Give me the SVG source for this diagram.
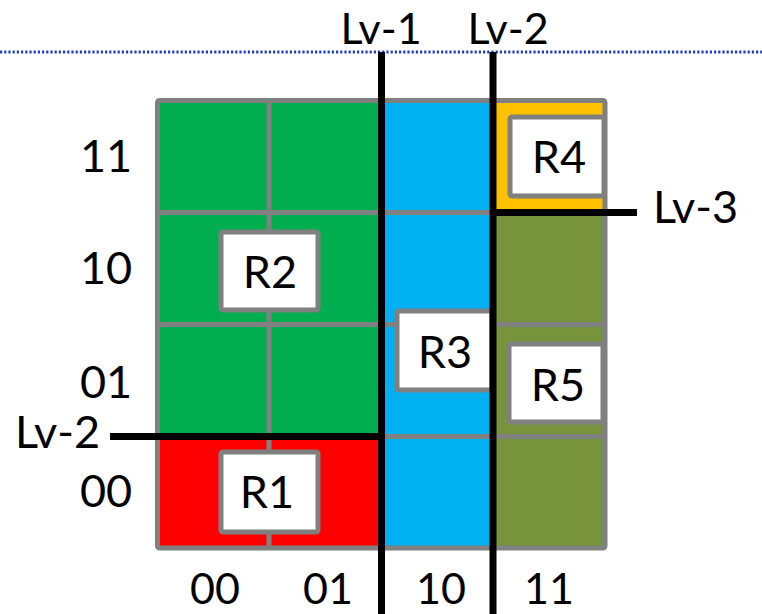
<svg xmlns="http://www.w3.org/2000/svg" width="762" height="614" viewBox="0 0 762 614">
  <style>
    .lbl { font-family: "Comic Sans MS", "Lato", "DejaVu Sans", sans-serif; font-size: 45px; fill: #000; }
    .edge { font-size: 43px; }
    .mid { text-anchor: middle; }
    .grid { fill: none; stroke: #808080; stroke-width: 5; }
    .box { fill: #fff; stroke: #808080; stroke-width: 5; }
    .cut { stroke: #000; stroke-width: 7; fill: none; }
  </style>
  <rect width="762" height="614" fill="#fff"/>

  <!-- level boundary marker -->
  <line x1="0" y1="52" x2="762" y2="52" stroke="#1f3fbf" stroke-width="3" stroke-dasharray="2.2 2"/>

  <!-- cell fills -->
  <g id="cells">
    <rect x="157.5" y="100.5" width="223.5" height="336" fill="#00ad4f"/>
    <rect x="157.5" y="436.5" width="223.5" height="111.5" fill="#ff0000"/>
    <rect x="381" y="100.5" width="112" height="447.5" fill="#00b0f0"/>
    <rect x="493" y="100.5" width="112" height="112" fill="#ffc000"/>
    <rect x="493" y="212.5" width="112" height="335.5" fill="#77933c"/>
  </g>

  <!-- grid -->
  <g id="grid" class="grid">
    <rect x="157.5" y="100.5" width="447.5" height="447.5" rx="2"/>
    <line x1="269" y1="100.5" x2="269" y2="548"/>
    <line x1="381" y1="100.5" x2="381" y2="548"/>
    <line x1="493" y1="100.5" x2="493" y2="548"/>
    <line x1="157.5" y1="212.5" x2="605" y2="212.5"/>
    <line x1="157.5" y1="324.5" x2="605" y2="324.5"/>
    <line x1="157.5" y1="436.5" x2="605" y2="436.5"/>
  </g>

  <!-- regions -->
  <g id="R1">
    <rect class="box" x="221" y="452" width="97" height="80" rx="2"/>
    <text class="lbl mid" x="267" y="508">R1</text>
  </g>
  <g id="R2">
    <rect class="box" x="221" y="232" width="97" height="78" rx="2"/>
    <text class="lbl mid" x="270" y="288">R2</text>
  </g>
  <g id="R3">
    <rect class="box" x="397" y="311" width="95" height="79" rx="2"/>
    <text class="lbl mid" x="445" y="368">R3</text>
  </g>
  <g id="R4">
    <rect class="box" x="510" y="117" width="94" height="79" rx="2"/>
    <text class="lbl mid" x="559" y="173">R4</text>
  </g>
  <g id="R5">
    <rect class="box" x="509" y="344" width="94" height="78" rx="2"/>
    <text class="lbl mid" x="558" y="401">R5</text>
  </g>

  <!-- partition cuts -->
  <g id="cuts" class="cut">
    <line x1="381.5" y1="52" x2="381.5" y2="614"/>
    <line x1="493" y1="52" x2="493" y2="614"/>
    <line x1="110" y1="436.5" x2="381.5" y2="436.5"/>
    <line x1="493" y1="212.5" x2="637" y2="212.5"/>
  </g>

  <!-- cut labels -->
  <g id="cut-labels">
    <text class="lbl edge mid" x="381" y="44">Lv-1</text>
    <text class="lbl edge mid" x="508" y="44">Lv-2</text>
    <text class="lbl" x="653" y="223">Lv-3</text>
    <text class="lbl" x="15" y="448">Lv-2</text>
  </g>

  <!-- axis labels -->
  <g id="row-labels">
    <text class="lbl" x="80" y="172">11</text>
    <text class="lbl" x="80" y="284">10</text>
    <text class="lbl" x="80" y="398">01</text>
    <text class="lbl" x="80" y="507">00</text>
  </g>
  <g id="col-labels">
    <text class="lbl edge mid" x="215" y="604">00</text>
    <text class="lbl edge mid" x="328" y="604">01</text>
    <text class="lbl edge mid" x="441" y="604">10</text>
    <text class="lbl edge mid" x="549" y="604">11</text>
  </g>
</svg>
